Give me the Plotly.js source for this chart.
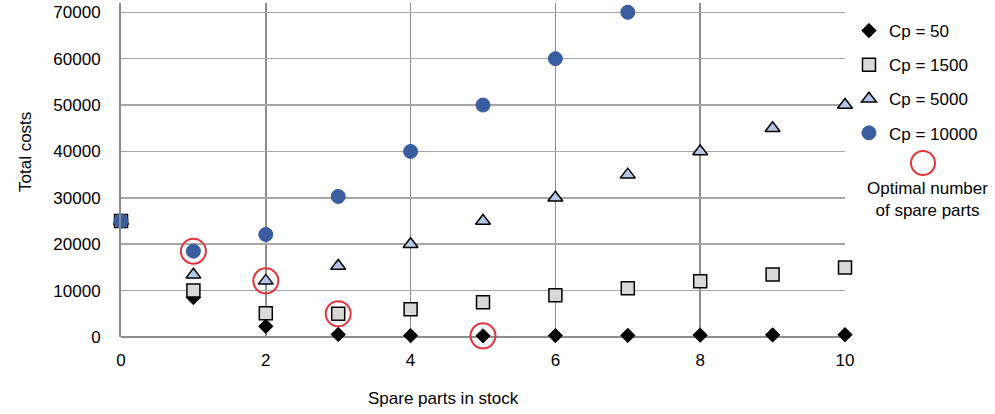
<!DOCTYPE html>
<html>
<head>
<meta charset="utf-8">
<script src="https://cdn.plot.ly/plotly-3.0.1.min.js"></script>
<style>html,body{margin:0;padding:0;background:#fff;}#chart{width:995px;height:414px;}</style>
</head>
<body>
<div id="chart"></div>
<script>
const xAll = [0,1,2,3,4,5,6,7,8,9,10];
const cp50 = [25000, 8500, 2300, 550, 300, 250, 300, 350, 400, 450, 500];
const cp1500 = [25000, 10000, 5100, 5000, 6000, 7500, 9000, 10500, 12000, 13500, 15000];
const cp5000 = [25000, 13400, 12100, 15300, 20000, 25000, 30000, 35000, 40000, 45000, 50000];
const x10000 = [0,1,2,3,4,5,6,7];
const cp10000 = [25000, 18500, 22100, 30300, 40000, 50000, 60000, 70000];
const optX = [1, 2, 3, 5];
const optY = [18500, 12100, 5000, 250];
const seriesNames = ["Cp = 50", "Cp = 1500", "Cp = 5000", "Cp = 10000"];
const optLabel = "Optimal number<br>of spare parts";
const xTitle = "Spare parts in stock";
const yTitle = "Total costs";

const FONT = "Liberation Sans, Arial, sans-serif";
const traces = [
  {x: xAll, y: cp50, name: seriesNames[0], mode: "markers", type: "scatter", cliponaxis: false, legendgroup: "a",
   marker: {symbol: "diamond", size: 11, color: "#000000", line: {color: "#000000", width: 1}}},
  {x: xAll, y: cp1500, name: seriesNames[1], mode: "markers", type: "scatter", cliponaxis: false, legendgroup: "b",
   marker: {symbol: "square", size: 13, color: "#D9D9D9", line: {color: "#000000", width: 1.5}}},
  {x: xAll, y: cp5000, name: seriesNames[2], mode: "markers", type: "scatter", cliponaxis: false, legendgroup: "c",
   marker: {symbol: "triangle-up", size: 13, color: "#B4C7E7", line: {color: "#000000", width: 1.5}}},
  {x: x10000, y: cp10000, name: seriesNames[3], mode: "markers", type: "scatter", cliponaxis: false, legendgroup: "d",
   marker: {symbol: "circle", size: 14, color: "#3A5DA0", line: {color: "#3A5DA0", width: 1}}},
  {x: optX, y: optY, name: "Optimal", mode: "markers", type: "scatter", cliponaxis: false, showlegend: false,
   marker: {symbol: "circle-open", size: 25, color: "#E0353D", line: {color: "#E0353D", width: 2}}}
];

const layout = {
  width: 995, height: 414,
  margin: {l: 121, r: 150, t: 3, b: 77},
  paper_bgcolor: "#ffffff", plot_bgcolor: "#ffffff",
  font: {family: FONT, size: 17, color: "#000000"},
  showlegend: true,
  legend: {x: 1.0055, xanchor: "left", y: 0.97, yanchor: "top", traceorder: "grouped", tracegroupgap: 9,
           font: {family: FONT, size: 17, color: "#000000"}, bgcolor: "rgba(0,0,0,0)"},
  xaxis: {range: [0, 10], tickmode: "array", tickvals: [0,2,4,6,8,10], ticktext: ["0","2","4","6","8","10"],
          showgrid: true, gridcolor: "#8C8C8C", gridwidth: 1.5, zeroline: false,
          showline: false, ticks: "outside", ticklen: 8, tickcolor: "rgba(0,0,0,0)",
          tickfont: {family: FONT, size: 17, color: "#000000"}, fixedrange: true},
  yaxis: {range: [0, 72000], tickmode: "array", tickvals: [0,10000,20000,30000,40000,50000,60000,70000],
          ticktext: ["0","10000","20000","30000","40000","50000","60000","70000"],
          showgrid: true, gridcolor: "#A6A6A6", gridwidth: 1.5, zeroline: true, zerolinecolor: "#8C8C8C", zerolinewidth: 2,
          showline: true, linecolor: "#8C8C8C", linewidth: 2, ticks: "outside", ticklen: 15, tickcolor: "rgba(0,0,0,0)",
          tickfont: {family: FONT, size: 17, color: "#000000"}, fixedrange: true},
  shapes: [
    {type: "circle", xref: "paper", yref: "paper", xsizemode: "pixel", ysizemode: "pixel",
     xanchor: (923-121)/724, yanchor: (337-163)/334, x0: -12, x1: 12, y0: -12, y1: 12,
     line: {color: "#E0353D", width: 2}, fillcolor: "rgba(0,0,0,0)"}
  ],
  annotations: [
    {text: optLabel, xref: "paper", yref: "paper", x: (927-121)/724, y: (337-200)/334, xanchor: "center", yanchor: "middle",
     showarrow: false, align: "center", font: {family: FONT, size: 17, color: "#000000"}},
    {text: xTitle, xref: "paper", yref: "paper", x: (443-121)/724, y: (337-398)/334, xanchor: "center", yanchor: "middle",
     showarrow: false, font: {family: FONT, size: 17, color: "#000000"}},
    {text: yTitle, xref: "paper", yref: "paper", x: (25-121)/724, y: (337-152)/334, xanchor: "center", yanchor: "middle",
     textangle: -90, showarrow: false, font: {family: FONT, size: 17, color: "#000000"}}
  ]
};

Plotly.newPlot("chart", traces, layout, {displayModeBar: false, staticPlot: true});
</script>
</body>
</html>
